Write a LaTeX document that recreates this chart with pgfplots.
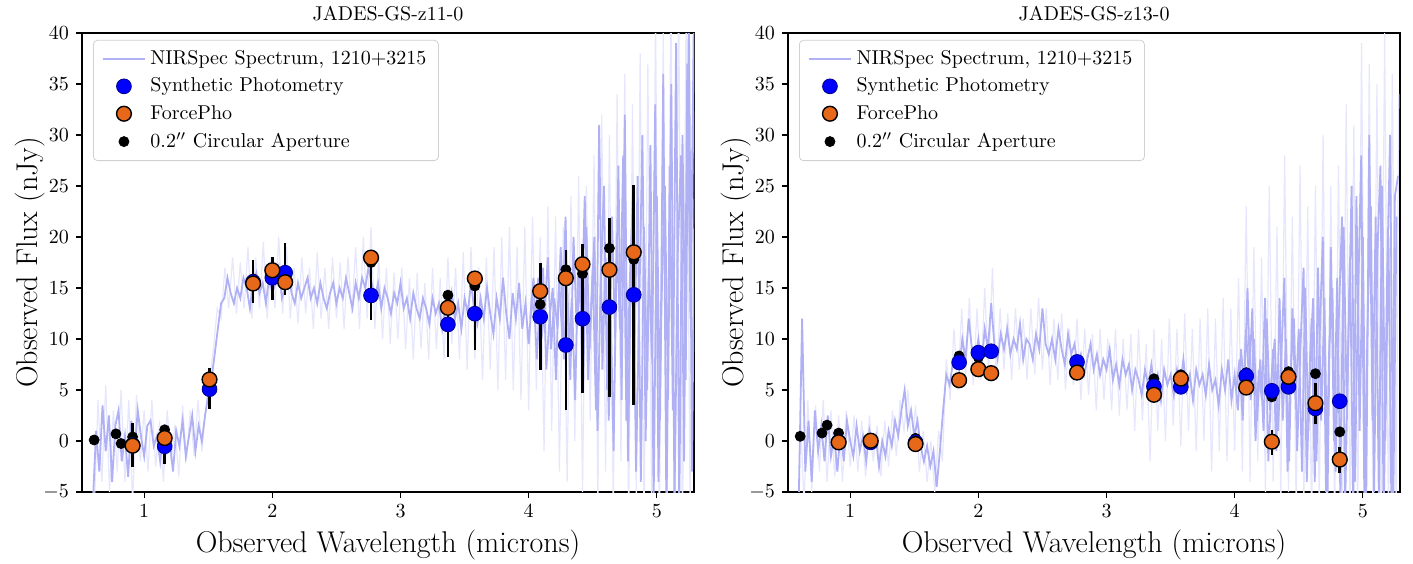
\documentclass[border=0pt]{standalone}
\usepackage{pgfplots}
\pgfplotsset{compat=1.18}

\definecolor{specmain}{RGB}{176,176,245}
\definecolor{specfaint}{RGB}{230,230,252}
\definecolor{fpo}{RGB}{232,104,26}

\pgfplotsset{
  jades/.style={
    scale only axis, width=306pt, height=229.5pt,
    xmin=0.515, xmax=5.29, ymin=-5, ymax=40,
    xtick={1,2,3,4,5}, ytick={-5,0,5,10,15,20,25,30,35,40},
    tick align=outside, xtick pos=bottom, ytick pos=left,
    major tick length=3pt,
    tick style={black, line width=0.6pt},
    axis line style={line width=0.8pt},
    tick label style={font=\fontsize{10}{12}\selectfont},
    title style={at={(axis description cs:0.5,1)}, anchor=center, yshift=3.5pt, font=\fontsize{10}{12}\selectfont},
    xlabel={Observed Wavelength (microns)},
    ylabel={Observed Flux (nJy)},
    label style={font=\fontsize{15}{18}\selectfont},
    x label style={at={(axis description cs:0.5,-0.1155)}, anchor=center},
    y label style={at={(axis description cs:-0.085,0.5)}, anchor=center},
    legend style={at={(axis description cs:0.018,0.985)}, anchor=north west,
      draw=black!18, rounded corners=2pt, fill=white,
      font=\fontsize{10}{12}\selectfont, row sep=1.2pt, inner xsep=4pt, inner ysep=3pt},
    legend cell align=left,
    legend image code/.code={\draw[mark repeat=2,mark phase=2,#1] plot coordinates {(0cm,0cm) (0.375cm,0cm) (0.75cm,0cm)};},
  },
  faint/.style={specfaint, line width=0.6pt, forget plot},
  main/.style={specmain, line width=0.9pt, forget plot},
  errs/.style={forget plot, draw=none, mark=none,
    error bars/.cd, y dir=both, y explicit, error mark=none,
    error bar style={draw=black, line width=1.3pt}},
  aper/.style={only marks, mark=*, mark size=2.5pt, black, forget plot},
  synth/.style={only marks, mark=*, mark size=3.7pt, mark options={fill=blue, draw=blue!55!black, line width=0.4pt}, forget plot},
  fpho/.style={only marks, mark=*, mark size=3.7pt, mark options={fill=fpo, draw=black, line width=0.7pt}, forget plot},
}

\begin{document}
\begin{tikzpicture}
\path[use as bounding box] (-41pt,-35.5pt) rectangle (665.5pt,246pt);

% ---------------- JADES-GS-z11-0 ----------------
\begin{axis}[jades, title={JADES-GS-z11-0}]
\addplot[faint] coordinates {
(0.61,-7) (0.64,4) (0.67,-4) (0.70,5.5) (0.73,-5) (0.76,3) (0.79,-3) (0.82,5) (0.85,-4) (0.88,4)
(0.91,-6) (0.94,4.5) (0.97,-2) (1.00,3) (1.03,-3) (1.06,4) (1.09,-2.5) (1.12,2) (1.15,-4) (1.18,3)
(1.21,-2) (1.24,1.5) (1.27,-3.5) (1.30,3.5) (1.33,-2) (1.36,3) (1.39,-1.5) (1.42,4) (1.45,-1) (1.48,3)
(1.51,6) (1.54,9) (1.57,13) (1.60,12) (1.63,17) (1.66,13) (1.69,18) (1.72,12.5) (1.75,17.5) (1.78,13)
(1.81,19) (1.84,12) (1.87,18) (1.90,13) (1.93,19.5) (1.96,12) (1.99,18) (2.02,13) (2.05,20) (2.08,12.5)
(2.11,19) (2.14,12) (2.17,17) (2.20,11.5) (2.23,18) (2.26,12.5) (2.29,17) (2.32,11) (2.35,18.5) (2.38,12)
(2.41,17) (2.44,11) (2.47,18) (2.50,12) (2.53,17.5) (2.56,11) (2.59,18) (2.62,12.5) (2.65,19) (2.68,11)
(2.71,20) (2.74,12) (2.77,21) (2.80,11) (2.83,18) (2.86,10) (2.89,17) (2.92,9.5) (2.95,16.5) (2.98,10)
(3.01,17) (3.04,9) (3.07,16) (3.10,8) (3.13,16.5) (3.16,9) (3.19,15.5) (3.22,8) (3.25,17) (3.28,9)
(3.31,16) (3.34,8) (3.37,18) (3.40,9.5) (3.43,17) (3.46,8) (3.49,18.5) (3.52,7) (3.55,19) (3.58,8)
(3.61,17) (3.64,6) (3.67,18) (3.70,7) (3.73,19) (3.76,5) (3.79,20) (3.82,6) (3.85,21) (3.88,5)
(3.91,19) (3.94,4) (3.97,21) (4.00,3) (4.03,22) (4.06,5) (4.09,20) (4.12,-1) (4.15,23) (4.18,1)
(4.21,22) (4.24,-3) (4.27,21) (4.30,-4) (4.33,24) (4.36,0) (4.39,26) (4.42,-5) (4.45,25) (4.48,2)
(4.51,28) (4.54,-6) (4.57,32) (4.60,-3) (4.63,30) (4.66,-7) (4.69,34) (4.72,-2) (4.75,36) (4.78,-8)
(4.81,33) (4.84,-6) (4.87,38) (4.90,-9) (4.93,37) (4.96,-7) (4.99,42) (5.02,-10) (5.05,40) (5.08,-8)
(5.11,45) (5.14,-9) (5.17,44) (5.20,-10) (5.23,46) (5.26,-8) (5.29,45) (5.32,-5)
};
\addplot[main] coordinates {
(0.600,-6) (0.625,1) (0.650,-3) (0.675,3.5) (0.700,-1) (0.725,2.5) (0.750,-4) (0.775,1.5) (0.800,3) (0.825,-2)
(0.850,0.5) (0.875,-3.5) (0.900,2) (0.925,-1) (0.950,3) (0.975,0.5) (1.000,-1.5) (1.025,1.5) (1.050,2) (1.075,-0.5)
(1.100,0.5) (1.125,-2) (1.150,1) (1.175,-1) (1.200,0) (1.225,-3) (1.250,1) (1.275,-0.5) (1.300,2) (1.325,-1.5)
(1.350,0.5) (1.375,2.5) (1.400,-1) (1.425,1.5) (1.450,0) (1.475,2.5) (1.500,4.5) (1.525,6) (1.550,8.5) (1.575,11)
(1.600,13.5) (1.625,14) (1.650,16) (1.675,14.5) (1.700,13.5) (1.725,15) (1.750,14) (1.775,16) (1.800,15) (1.825,13)
(1.850,15.5) (1.875,16.5) (1.900,14.5) (1.925,15.5) (1.950,13.5) (1.975,16) (2.000,14.5) (2.025,15.5) (2.050,17) (2.075,14)
(2.100,15) (2.125,16.5) (2.150,14.5) (2.175,13.5) (2.200,15.5) (2.225,14) (2.250,15) (2.275,16) (2.300,14) (2.325,15)
(2.350,13.5) (2.375,15.5) (2.400,14) (2.425,13) (2.450,14.5) (2.475,15.5) (2.500,13.5) (2.525,15) (2.550,14) (2.575,16)
(2.600,14.5) (2.625,13) (2.650,15.5) (2.675,14) (2.700,16) (2.725,15) (2.750,17) (2.775,15.5) (2.800,14) (2.825,15.5)
(2.850,13) (2.875,15) (2.900,14) (2.925,12.5) (2.950,14.5) (2.975,13.5) (3.000,15.5) (3.025,13) (3.050,14) (3.075,12)
(3.100,14.5) (3.125,13) (3.150,12) (3.175,14) (3.200,13) (3.225,11.5) (3.250,14) (3.275,12.5) (3.300,13.5) (3.325,11)
(3.350,13) (3.375,12) (3.400,14.5) (3.425,12) (3.450,13.5) (3.475,11) (3.500,14) (3.525,12.5) (3.550,15.5) (3.575,13)
(3.600,11.5) (3.625,14) (3.650,12) (3.675,15) (3.700,12.5) (3.725,10.5) (3.750,14) (3.775,12) (3.800,16) (3.825,12.5)
(3.850,10) (3.875,14.5) (3.900,12) (3.925,15.5) (3.950,11) (3.975,13.5) (4.000,9.5) (4.025,14) (4.050,11.5) (4.075,16)
(4.100,10) (4.125,13) (4.150,18) (4.175,9) (4.200,14) (4.225,11) (4.250,19) (4.275,8) (4.300,15) (4.325,6)
(4.350,20) (4.375,11) (4.400,16) (4.425,5) (4.450,21) (4.475,9) (4.500,17) (4.525,3) (4.550,31) (4.575,7)
(4.600,18) (4.625,2) (4.650,22) (4.675,10) (4.700,27) (4.725,4) (4.750,32) (4.775,-2) (4.800,19) (4.825,8)
(4.850,26) (4.875,-4) (4.900,21) (4.925,5) (4.950,29) (4.975,-6) (5.000,24) (5.025,2) (5.050,36) (5.075,-8)
(5.100,27) (5.125,3) (5.150,39) (5.175,-7) (5.200,30) (5.225,6) (5.250,42) (5.275,-3) (5.300,34) (5.325,10)
};
\addplot[main] coordinates {
(4.0125,12) (4.0375,16) (4.0625,8) (4.0875,13) (4.1125,17) (4.1375,7) (4.1625,12) (4.1875,15) (4.2125,6) (4.2375,16)
(4.2625,10) (4.2875,22) (4.3125,9) (4.3375,14) (4.3625,4) (4.3875,18) (4.4125,12) (4.4375,24) (4.4625,6) (4.4875,13)
(4.5125,20) (4.5375,1) (4.5625,16) (4.5875,25) (4.6125,5) (4.6375,14) (4.6625,-1) (4.6875,20) (4.7125,11) (4.7375,28)
(4.7625,2) (4.7875,15) (4.8125,24) (4.8375,-3) (4.8625,13) (4.8875,30) (4.9125,0) (4.9375,17) (4.9625,8) (4.9875,33)
(5.0125,-4) (5.0375,14) (5.0625,25) (5.0875,4) (5.1125,35) (5.1375,-6) (5.1625,18) (5.1875,28) (5.2125,-2) (5.2375,37)
(5.2625,12) (5.2875,40) (5.3125,-1)
};
\addplot[errs] coordinates {
(0.91,-0.405) +- (0,2.165) (1.16,-0.54) +- (0,1.71) (1.51,5.165) +- (0,2.035) (1.85,15.6) +- (0,2.1)
(2.00,15.925) +- (0,2.125) (2.10,16.85) +- (0,2.55) (2.77,14.655) +- (0,2.795) (3.37,11.385) +- (0,3.115)
(3.58,12.475) +- (0,3.525) (4.09,12.23) +- (0,5.23) (4.29,10.865) +- (0,7.835) (4.42,12.025) +- (0,7.275)
(4.63,13.1) +- (0,8.8) (4.82,14.3) +- (0,10.8)
};
\addplot[aper] coordinates {
(0.61,0.1) (0.78,0.7) (0.82,-0.25) (0.91,0.4) (1.16,1.1) (1.51,5.5) (1.85,15.9) (2.00,16.1) (2.10,16.3)
(2.77,17.5) (3.37,14.3) (3.58,15.2) (4.09,13.4) (4.29,16.8) (4.42,16.4) (4.63,18.9) (4.82,17.8)
};
\addplot[synth] coordinates {
(0.91,-0.4) (1.16,-0.52) (1.51,5.08) (1.85,15.6) (2.00,16.0) (2.10,16.5) (2.77,14.27) (3.37,11.43)
(3.58,12.48) (4.09,12.18) (4.29,9.41) (4.42,11.99) (4.63,13.13) (4.82,14.33)
};
\addplot[fpho] coordinates {
(0.91,-0.46) (1.16,0.29) (1.51,6.03) (1.85,15.44) (2.00,16.74) (2.10,15.57) (2.77,17.98) (3.37,13.06)
(3.58,15.93) (4.09,14.69) (4.29,15.96) (4.42,17.33) (4.63,16.78) (4.82,18.5)
};
\addlegendimage{specmain, line width=1.2pt}
\addlegendentry{NIRSpec Spectrum, 1210+3215}
\addlegendimage{only marks, mark=*, mark size=3.7pt, mark options={fill=blue, draw=blue!55!black, line width=0.4pt}}
\addlegendentry{Synthetic Photometry}
\addlegendimage{only marks, mark=*, mark size=3.7pt, mark options={fill=fpo, draw=black, line width=0.7pt}}
\addlegendentry{ForcePho}
\addlegendimage{only marks, mark=*, mark size=2.5pt, black}
\addlegendentry{0.2$''$ Circular Aperture}
\end{axis}

% ---------------- JADES-GS-z13-0 ----------------
\begin{axis}[jades, at={(353pt,0pt)}, title={JADES-GS-z13-0}]
\addplot[faint] coordinates {
(0.61,3) (0.64,-6) (0.67,4) (0.70,-5) (0.73,3.5) (0.76,-3) (0.79,4) (0.82,-4) (0.85,3) (0.88,-3.5)
(0.91,2.5) (0.94,-4) (0.97,3) (1.00,-2.5) (1.03,2.5) (1.06,-3) (1.09,2) (1.12,-3.5) (1.15,2.5) (1.18,-2)
(1.21,1.5) (1.24,-3.5) (1.27,2) (1.30,-2.5) (1.33,3) (1.36,-1.5) (1.39,4) (1.42,1) (1.45,5) (1.48,-1)
(1.51,3.5) (1.54,-3) (1.57,1) (1.60,-4) (1.63,0) (1.66,-5) (1.69,1) (1.72,-2) (1.75,8) (1.78,4)
(1.81,11) (1.84,5) (1.87,13) (1.90,6) (1.93,14) (1.96,5.5) (1.99,13) (2.02,6) (2.05,15) (2.08,6.5)
(2.11,17) (2.14,6) (2.17,13) (2.20,7) (2.23,12.5) (2.26,6) (2.29,13) (2.32,7) (2.35,12) (2.38,6)
(2.41,13) (2.44,6.5) (2.47,14) (2.50,7) (2.53,13) (2.56,5.5) (2.59,12) (2.62,6) (2.65,12.5) (2.68,5)
(2.71,11) (2.74,5.5) (2.77,12) (2.80,4) (2.83,11) (2.86,4.5) (2.89,10.5) (2.92,3) (2.95,11) (2.98,4)
(3.01,10) (3.04,3) (3.07,11) (3.10,2.5) (3.13,10) (3.16,3) (3.19,10.5) (3.22,1) (3.25,11) (3.28,2)
(3.31,9.5) (3.34,-2) (3.37,11) (3.40,1) (3.43,10) (3.46,0) (3.49,12) (3.52,1.5) (3.55,11) (3.58,-0.5)
(3.61,12.5) (3.64,1) (3.67,11) (3.70,-1) (3.73,12) (3.76,0) (3.79,13) (3.82,-3) (3.85,12) (3.88,-1)
(3.91,14) (3.94,-2) (3.97,13) (4.00,-1) (4.03,16) (4.06,-3) (4.09,23) (4.12,-4) (4.15,19) (4.18,-2)
(4.21,18) (4.24,-5) (4.27,25) (4.30,-4) (4.33,21) (4.36,-6) (4.39,28) (4.42,-5) (4.45,22) (4.48,-7)
(4.51,27) (4.54,-6) (4.57,23) (4.60,-8) (4.63,25) (4.66,-7) (4.69,30) (4.72,-9) (4.75,25) (4.78,-8)
(4.81,27) (4.84,-10) (4.87,33) (4.90,-8) (4.93,31) (4.96,-9) (4.99,39) (5.02,-10) (5.05,37) (5.08,-9)
(5.11,35) (5.14,-10) (5.17,40) (5.20,-9) (5.23,36) (5.26,-8) (5.28,34)
};
\addplot[main] coordinates {
(0.600,-5) (0.625,12) (0.650,-3) (0.675,2) (0.700,-4) (0.725,3) (0.750,-1) (0.775,1.5) (0.800,-2) (0.825,2.5)
(0.850,-1.5) (0.875,0.5) (0.900,-3) (0.925,1) (0.950,-2) (0.975,2) (1.000,0) (1.025,-1.5) (1.050,1.5) (1.075,-1)
(1.100,0.5) (1.125,-2) (1.150,1) (1.175,-0.5) (1.200,0.5) (1.225,-2.5) (1.250,0) (1.275,-1.5) (1.300,1) (1.325,-0.5)
(1.350,2) (1.375,0.5) (1.400,3) (1.425,5) (1.450,1.5) (1.475,3) (1.500,0.5) (1.525,2) (1.550,-0.5) (1.575,-2)
(1.600,-0.5) (1.625,-2.5) (1.650,-1) (1.675,-4.5) (1.700,-1) (1.725,3) (1.750,6.5) (1.775,5.5) (1.800,7.5) (1.825,8)
(1.850,7) (1.875,10) (1.900,8) (1.925,12) (1.950,9) (1.975,8) (2.000,10) (2.025,7.5) (2.050,11) (2.075,9)
(2.100,13.5) (2.125,9.5) (2.150,8) (2.175,10.5) (2.200,9) (2.225,11) (2.250,8.5) (2.275,10) (2.300,9) (2.325,11.5)
(2.350,8) (2.375,10) (2.400,9.5) (2.425,8) (2.450,10.5) (2.475,9) (2.500,13) (2.525,9.5) (2.550,8.5) (2.575,10)
(2.600,8) (2.625,11) (2.650,9) (2.675,7.5) (2.700,10.5) (2.725,8.5) (2.750,9.5) (2.775,7.5) (2.800,8.5) (2.825,6.5)
(2.850,8) (2.875,9.5) (2.900,7) (2.925,8.5) (2.950,6.5) (2.975,8) (3.000,7) (3.025,9) (3.050,6) (3.075,7.5)
(3.100,5.5) (3.125,8) (3.150,6.5) (3.175,7.5) (3.200,5) (3.225,7) (3.250,6) (3.275,4.5) (3.300,7) (3.325,5.5)
(3.350,7.5) (3.375,5) (3.400,6.5) (3.425,4) (3.450,7) (3.475,5.5) (3.500,6.5) (3.525,4.5) (3.550,7) (3.575,5.5)
(3.600,8) (3.625,5) (3.650,6.5) (3.675,4) (3.700,7) (3.725,5.5) (3.750,6.5) (3.775,4.5) (3.800,7.5) (3.825,5)
(3.850,6) (3.875,3.5) (3.900,7) (3.925,5) (3.950,8) (3.975,4) (4.000,6.5) (4.025,3) (4.050,9) (4.075,5)
(4.100,15) (4.125,4) (4.150,10) (4.175,2) (4.200,8) (4.225,1) (4.250,12) (4.275,3) (4.300,9) (4.325,-1)
(4.350,14) (4.375,2) (4.400,10) (4.425,-2) (4.450,13) (4.475,4) (4.500,11) (4.525,-3) (4.550,15) (4.575,1)
(4.600,12) (4.625,-4) (4.650,17) (4.675,2) (4.700,14) (4.725,-5) (4.750,19) (4.775,0) (4.800,16) (4.825,-6)
(4.850,21) (4.875,3) (4.900,18) (4.925,-7) (4.950,24) (4.975,1) (5.000,20) (5.025,-8) (5.050,30) (5.075,2)
(5.100,22) (5.125,-6) (5.150,25) (5.175,0) (5.200,20) (5.225,-9) (5.250,24) (5.275,26)
};
\addplot[main] coordinates {
(4.0125,5) (4.0375,8) (4.0625,2) (4.0875,11) (4.1125,6) (4.1375,13) (4.1625,0) (4.1875,7) (4.2125,4) (4.2375,14)
(4.2625,-2) (4.2875,6) (4.3125,10) (4.3375,1) (4.3625,8) (4.3875,16) (4.4125,-3) (4.4375,7) (4.4625,12) (4.4875,-1)
(4.5125,9) (4.5375,17) (4.5625,-4) (4.5875,8) (4.6125,14) (4.6375,-2) (4.6625,10) (4.6875,20) (4.7125,-5) (4.7375,9)
(4.7625,15) (4.7875,-3) (4.8125,12) (4.8375,22) (4.8625,-6) (4.8875,10) (4.9125,25) (4.9375,-4) (4.9625,14) (4.9875,28)
(5.0125,-7) (5.0375,12) (5.0625,23) (5.0875,-5) (5.1125,18) (5.1375,27) (5.1625,-8) (5.1875,15) (5.2125,30) (5.2375,-6)
(5.2625,22)
};
\addplot[errs] coordinates {
(4.29,-0.135) +- (0,1.235) (4.63,3.695) +- (0,2.025) (4.82,-1.865) +- (0,1.305)
};
\addplot[aper] coordinates {
(0.61,0.46) (0.78,0.78) (0.82,1.56) (0.91,0.78) (1.16,0.26) (1.51,0.26) (1.85,8.34) (2.00,8.2) (2.10,9.0)
(2.77,7.7) (3.37,6.1) (3.58,6.5) (4.09,6.7) (4.29,4.33) (4.42,6.8) (4.63,6.6) (4.82,0.9)
};
\addplot[synth] coordinates {
(0.91,-0.1) (1.16,-0.13) (1.51,-0.13) (1.85,7.7) (2.00,8.66) (2.10,8.8) (2.77,7.75) (3.37,5.34)
(3.58,5.31) (4.09,6.38) (4.29,4.92) (4.42,5.31) (4.63,3.19) (4.82,3.9)
};
\addplot[fpho] coordinates {
(0.91,-0.13) (1.16,0.03) (1.51,-0.3) (1.85,5.96) (2.00,7.04) (2.10,6.65) (2.77,6.71) (3.37,4.53)
(3.58,6.12) (4.09,5.24) (4.29,-0.07) (4.42,6.29) (4.63,3.71) (4.82,-1.82)
};
\addlegendimage{specmain, line width=1.2pt}
\addlegendentry{NIRSpec Spectrum, 1210+3215}
\addlegendimage{only marks, mark=*, mark size=3.7pt, mark options={fill=blue, draw=blue!55!black, line width=0.4pt}}
\addlegendentry{Synthetic Photometry}
\addlegendimage{only marks, mark=*, mark size=3.7pt, mark options={fill=fpo, draw=black, line width=0.7pt}}
\addlegendentry{ForcePho}
\addlegendimage{only marks, mark=*, mark size=2.5pt, black}
\addlegendentry{0.2$''$ Circular Aperture}
\end{axis}
\end{tikzpicture}
\end{document}
